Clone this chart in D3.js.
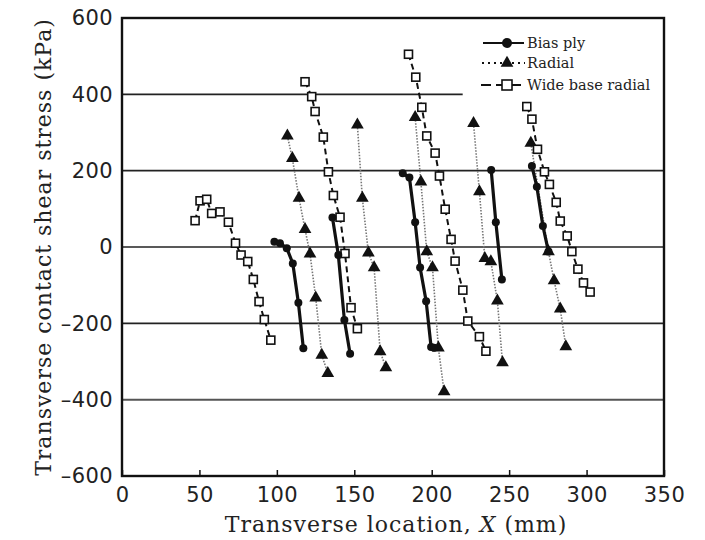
<!DOCTYPE html>
<html>
<head>
<meta charset="utf-8">
<script src="https://cdn.jsdelivr.net/npm/d3@7"></script>
<style>
  body { margin: 0; background: #fff; }
  svg { display: block; }
</style>
</head>
<body>
<svg id="chart" width="705" height="540"></svg>
<script>
// ---------- data ----------
const xTicks = [0, 50, 100, 150, 200, 250, 300, 350];
const yTicks = [-600, -400, -200, 0, 200, 400, 600];
const seriesNames = ["Bias ply", "Radial", "Wide base radial"];

// Bias ply (filled circles, solid line) – one array per group
const biasX = [
  [98.4, 102.0, 106.4, 110.3, 113.9, 117.1],
  [135.9, 139.7, 143.6, 147.3],
  [181.3, 185.6, 189.3, 192.5, 196.4, 199.6, 201.5],
  [238.4, 241.4, 245.3],
  [264.7, 267.9, 271.8, 275.4]
];
const biasY = [
  [14, 10, -3, -43, -146, -265],
  [77, -21, -191, -280],
  [193, 182, 65, -54, -142, -262, -264],
  [202, 65, -85],
  [212, 158, 55, -12]
];

// Radial (filled triangles, dotted line)
const radialX = [
  [106.8, 110.0, 114.3, 118.2, 121.4, 125.1, 129.0, 132.9],
  [152.0, 155.2, 159.1, 162.8, 166.7, 170.4],
  [189.3, 193.0, 196.8, 200.5, 204.3, 208.0],
  [227.0, 230.8, 234.3, 238.2, 242.4, 245.7],
  [264.0, 275.4, 279.0, 283.0, 286.6]
];
const radialY = [
  [291, 232, 128, 46, -18, -133, -283, -331],
  [320, 128, -15, -54, -274, -316],
  [340, 171, -12, -54, -264, -379],
  [324, 145, -30, -38, -141, -303],
  [272, -12, -88, -162, -261]
];

// Wide base radial (open squares, dashed line)
const wideX = [
  [47.2, 50.4, 54.7, 57.9, 63.3, 68.7, 73.3, 76.9, 81.2, 84.8, 88.5, 91.9, 96.1],
  [118.2, 122.5, 124.7, 130.0, 133.3, 136.5, 140.8, 144.0, 147.9, 152.0],
  [185.0, 189.7, 193.6, 196.8, 202.2, 205.0, 208.7, 212.5, 215.1, 220.1, 223.3, 230.8, 235.0],
  [261.4, 264.7, 268.3, 272.8, 276.0, 280.4, 283.0, 287.5, 290.5, 294.4, 298.0, 302.3]
];
const wideY = [
  [69, 121, 125, 88, 92, 65, 10, -21, -38, -85, -143, -190, -244],
  [433, 394, 355, 288, 197, 135, 78, -17, -159, -214],
  [505, 445, 366, 291, 246, 186, 99, 20, -37, -113, -194, -235, -273],
  [368, 335, 256, 197, 164, 117, 68, 29, -12, -58, -94, -118]
];

// ---------- layout ----------
const svg = d3.select("#chart");
const mLeft = 122, mRight = 664, mTop = 18, mBottom = 476;
const x = d3.scaleLinear().domain([0, 350]).range([mLeft, mRight]);
const y = d3.scaleLinear().domain([-600, 600]).range([mBottom, mTop]);
const ink = "#111";

// grid lines
const gridVals = [400, 200, 0, -200, -400];
svg.append("g").selectAll("line").data(gridVals).join("line")
  .attr("x1", x(0))
  .attr("x2", d => d === 400 ? x(220) : x(350))
  .attr("y1", d => y(d)).attr("y2", d => y(d))
  .attr("stroke", d => d === -400 ? "#555" : "#222")
  .attr("stroke-width", d => d === -400 ? 2 : 1.6);

// axes
const xAxis = d3.axisBottom(x).tickValues(xTicks).tickSize(-6).tickPadding(11).tickFormat(d3.format("d"));
const gx = svg.append("g").attr("transform", `translate(0,${mBottom})`).call(xAxis);
gx.select(".domain").remove();
gx.selectAll(".tick line").attr("stroke", ink).attr("stroke-width", 1.5);
gx.selectAll(".tick text").attr("font-family", "DejaVu Sans, sans-serif").attr("font-size", 21)
  .attr("letter-spacing", 0.4).attr("fill", "#222");

const yAxis = d3.axisLeft(y).tickValues(yTicks).tickSize(0).tickPadding(9)
  .tickFormat(d => d < 0 ? "\u2013" + Math.abs(d) : String(d));
const gy = svg.append("g").attr("transform", `translate(${mLeft},0)`).call(yAxis);
gy.select(".domain").remove();
gy.selectAll(".tick text").attr("font-family", "DejaVu Sans, sans-serif").attr("font-size", 21)
  .attr("letter-spacing", 0.4).attr("fill", "#222");

// frame
svg.append("rect").attr("x", mLeft).attr("y", mTop).attr("width", mRight - mLeft).attr("height", mBottom - mTop)
  .attr("fill", "none").attr("stroke", ink).attr("stroke-width", 2.4);

// axis titles
svg.append("text").attr("x", (mLeft + mRight) / 2 + 3).attr("y", 532)
  .attr("text-anchor", "middle").attr("font-family", "DejaVu Serif, serif").attr("font-size", 22)
  .attr("letter-spacing", 1).attr("fill", "#222")
  .call(t => {
    t.append("tspan").text("Transverse location, ");
    t.append("tspan").attr("font-style", "italic").text("X");
    t.append("tspan").text(" (mm)");
  });
svg.append("text").attr("transform", `translate(51,${(mTop + mBottom) / 2}) rotate(-90)`)
  .attr("text-anchor", "middle").attr("font-family", "DejaVu Serif, serif").attr("font-size", 22)
  .attr("letter-spacing", 1).attr("fill", "#222")
  .text("Transverse contact shear stress (kPa)");

// ---------- marks ----------
const line = d3.line().x(d => x(d[0])).y(d => y(d[1]));
const zipGroups = (xs, ys) => xs.map((g, i) => g.map((v, j) => [v, ys[i][j]]));
const biasData = zipGroups(biasX, biasY);
const radialData = zipGroups(radialX, radialY);
const wideData = zipGroups(wideX, wideY);

const triPath = d3.symbol().type(d3.symbolTriangle).size(70)();

// radial
const gR = svg.append("g");
gR.selectAll("path.l").data(radialData).join("path").attr("class", "l")
  .attr("d", line).attr("fill", "none").attr("stroke", "#777").attr("stroke-width", 1.6)
  .attr("stroke-dasharray", "1.5,1.5");
gR.selectAll("path.m").data(radialData.flat()).join("path").attr("class", "m")
  .attr("d", triPath).attr("transform", d => `translate(${x(d[0])},${y(d[1])})`).attr("fill", ink);

// wide base radial
const gW = svg.append("g");
gW.selectAll("path.l").data(wideData).join("path").attr("class", "l")
  .attr("d", line).attr("fill", "none").attr("stroke", ink).attr("stroke-width", 2)
  .attr("stroke-dasharray", "6,4");
gW.selectAll("rect").data(wideData.flat()).join("rect")
  .attr("x", d => x(d[0]) - 4).attr("y", d => y(d[1]) - 4).attr("width", 8).attr("height", 8)
  .attr("fill", "#fff").attr("stroke", ink).attr("stroke-width", 1.6);

// bias ply
const gB = svg.append("g");
gB.selectAll("path.l").data(biasData).join("path").attr("class", "l")
  .attr("d", line).attr("fill", "none").attr("stroke", ink).attr("stroke-width", 3.2);
gB.selectAll("circle").data(biasData.flat()).join("circle")
  .attr("cx", d => x(d[0])).attr("cy", d => y(d[1])).attr("r", 4).attr("fill", ink);

// ---------- legend ----------
const lg = svg.append("g");
const legY = [43, 63, 85];
lg.append("line").attr("x1", 483).attr("x2", 524).attr("y1", legY[0]).attr("y2", legY[0]).attr("stroke", ink).attr("stroke-width", 2);
lg.append("circle").attr("cx", 507).attr("cy", legY[0]).attr("r", 5).attr("fill", ink);
lg.append("line").attr("x1", 482).attr("x2", 525).attr("y1", legY[1]).attr("y2", legY[1]).attr("stroke", ink).attr("stroke-width", 2).attr("stroke-dasharray", "2,4");
lg.append("path").attr("d", triPath).attr("transform", `translate(507,${legY[1]})`).attr("fill", ink);
lg.append("line").attr("x1", 481).attr("x2", 525).attr("y1", legY[2]).attr("y2", legY[2]).attr("stroke", ink).attr("stroke-width", 2).attr("stroke-dasharray", "10,5");
lg.append("rect").attr("x", 502).attr("y", legY[2] - 5).attr("width", 10).attr("height", 10).attr("fill", "#fff").attr("stroke", ink).attr("stroke-width", 1.6);
lg.selectAll("text").data(seriesNames).join("text")
  .attr("x", 527).attr("y", (d, i) => legY[i] + 5)
  .attr("font-family", "DejaVu Serif, serif").attr("font-size", 14.5).attr("fill", "#222")
  .text(d => d);
</script>
</body>
</html>
